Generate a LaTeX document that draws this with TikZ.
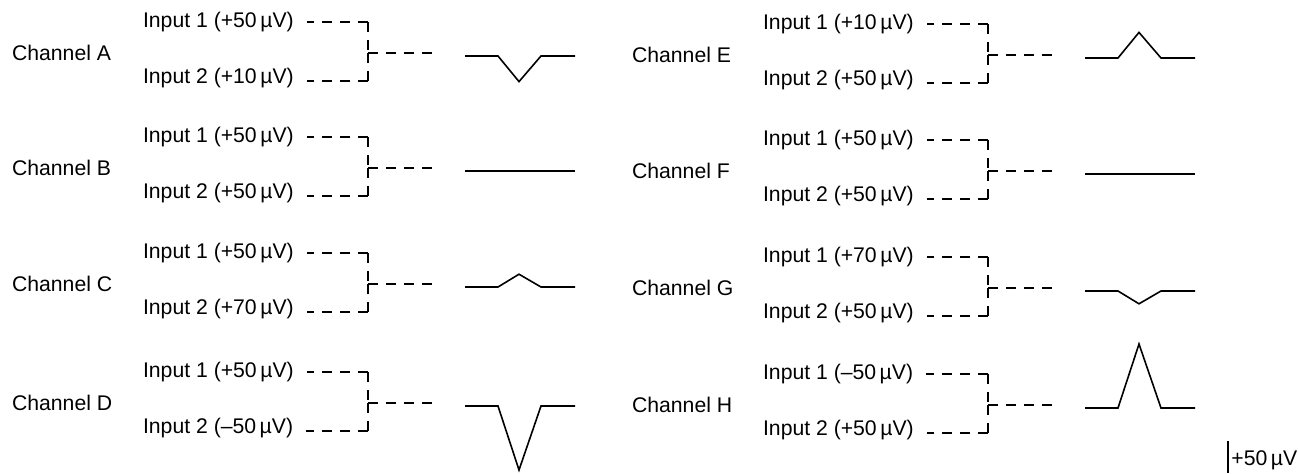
\documentclass[tikz,border=0pt]{standalone}
\usepackage{fontspec}
\setmainfont{Liberation Sans}
\usepackage{tikz}
\usetikzlibrary{calc}

% signed input value, en dash for negative values
\newcommand{\microvolt}[1]{\ifnum#1<0 –\number-#1\else+#1\fi\,µV}

\tikzset{
  chlabel/.style={anchor=west},
  inlabel/.style={anchor=west},
  dashlink/.style={line width=0.65pt, dash pattern=on 5pt off 4pt},
  wave/.style={line width=0.8pt, line join=miter}
}

\begin{document}
\begin{tikzpicture}[x=0.5pt, y=-0.5pt, font=\fontsize{10.6}{12}\selectfont]
    \useasboundingbox (0,0) rectangle (1298,473);
    \foreach \ch/\x/\y/\one/\two in {A/0/53/50/10, B/0/168/50/50, C/0/284/50/70, D/0/403/50/-50,
                                     E/620/55/10/50, F/620/171/50/50, G/620/288/70/50, H/620/405/-50/50}{
        \node[chlabel] (ch\ch) at (\x+5,\y) {Channel \ch};
        \node[inlabel] (in1\ch) at (\x+136,\y-31) {Input 1 (\microvolt{\one})};
        \node[inlabel] (in2\ch) at (\x+136,\y+25) {Input 2 (\microvolt{\two})};
        \coordinate (top\ch) at (\x+368,\y-31);
        \coordinate (bot\ch) at (\x+368,\y+28);
        \coordinate (mid\ch) at (\x+368,\y);
        \coordinate (out\ch) at (\x+432,\y);
        % dashes start at the corners
        \draw[dashlink, shorten >=3pt] (top\ch) -- (in1\ch.east);
        \draw[dashlink, shorten >=3pt] (bot\ch) -- (bot\ch -| in2\ch.east);
        \draw[dashlink] (top\ch) -- (mid\ch) (bot\ch) -- (mid\ch) (mid\ch) -- (out\ch);
        % difference of the two inputs
        \pgfmathsetmacro{\amp}{(\one-\two)*0.64}
        \draw[wave] (\x+465,\y+3) -- (\x+498,\y+3) -- (\x+519,\y+3+\amp)
                    -- (\x+541,\y+3) -- (\x+575,\y+3);
    }
    % calibration bar
    \draw[wave] (1228,441) -- (1228,473);
    \node[anchor=west, inner sep=1.5pt] (calib) at (1228,460) {+50\,µV};
\end{tikzpicture}
\end{document}
